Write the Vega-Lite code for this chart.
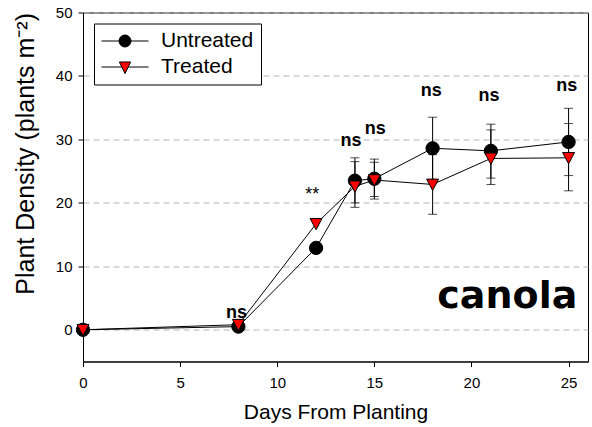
{
  "$schema": "https://vega.github.io/schema/vega-lite/v6.json",
  "width": 505,
  "height": 349,
  "autosize": "none",
  "padding": {"left": 83, "top": 12.5, "right": 4, "bottom": 65.5},
  "background": "white",
  "config": {
    "font": "Liberation Sans",
    "view": {"stroke": "black", "strokeWidth": 1},
    "axis": {
      "labelFont": "Liberation Sans",
      "titleFont": "Liberation Sans",
      "labelColor": "black",
      "titleColor": "black",
      "tickColor": "black",
      "domainColor": "black",
      "titleFontWeight": "normal",
      "labelFontSize": 15,
      "tickSize": 5,
      "labelFlush": false
    },
    "axisX": {"grid": false, "labelPadding": 9, "titleFontSize": 21, "titlePadding": 11},
    "axisY": {"grid": true, "gridDash": [6, 4], "gridColor": "#b4b4b4", "labelPadding": 6, "titleFontSize": 25, "titleAnchor": "end", "titlePadding": 17}
  },
  "datasets": {
    "series": [
      {"group": "Untreated", "day": 0, "density": 0},
      {"group": "Untreated", "day": 8, "density": 0.5},
      {"group": "Untreated", "day": 12, "density": 12.9},
      {"group": "Untreated", "day": 14, "density": 23.5, "lo": 19.3, "hi": 27.1},
      {"group": "Untreated", "day": 15, "density": 23.8, "lo": 20.6, "hi": 26.9},
      {"group": "Untreated", "day": 18, "density": 28.6, "lo": 23.7, "hi": 33.5},
      {"group": "Untreated", "day": 21, "density": 28.2, "lo": 23.9, "hi": 32.4},
      {"group": "Untreated", "day": 25, "density": 29.6, "lo": 24.3, "hi": 34.9},
      {"group": "Treated", "day": 0, "density": 0},
      {"group": "Treated", "day": 8, "density": 0.8},
      {"group": "Treated", "day": 12, "density": 16.7},
      {"group": "Treated", "day": 14, "density": 22.6, "lo": 20.0, "hi": 26.5},
      {"group": "Treated", "day": 15, "density": 23.6, "lo": 21.0, "hi": 26.4},
      {"group": "Treated", "day": 18, "density": 22.9, "lo": 18.2, "hi": 27.6},
      {"group": "Treated", "day": 21, "density": 27.0, "lo": 22.9, "hi": 31.5},
      {"group": "Treated", "day": 25, "density": 27.1, "lo": 21.9, "hi": 32.5}
    ],
    "annot": [
      {"day": 7.9, "y": 1.9, "label": "ns"},
      {"day": 11.8, "y": 20.5, "label": "**"},
      {"day": 13.8, "y": 29.0, "label": "ns"},
      {"day": 15.05, "y": 30.9, "label": "ns"},
      {"day": 17.93, "y": 36.85, "label": "ns"},
      {"day": 20.9, "y": 36.0, "label": "ns"},
      {"day": 24.9, "y": 37.7, "label": "ns"}
    ],
    "crop": [
      {"day": 25.45, "y": 3.4, "label": "canola"}
    ]
  },
  "resolve": {
    "scale": {"shape": "independent", "fill": "independent", "stroke": "independent"},
    "legend": {"shape": "independent", "fill": "independent", "stroke": "independent"}
  },
  "layer": [
    {
      "data": {"name": "series"},
      "transform": [{"filter": "isValid(datum.lo)"}],
      "mark": {"type": "errorbar", "color": "black", "ticks": {"size": 9, "color": "black", "thickness": 1}, "rule": {"color": "black", "strokeWidth": 1}},
      "encoding": {
        "x": {"field": "day", "type": "quantitative", "scale": {"domain": [0, 26], "nice": false}, "axis": {"values": [0, 5, 10, 15, 20, 25]}, "title": "Days From Planting"},
        "y": {"field": "lo", "type": "quantitative", "scale": {"domain": [-5, 50], "nice": false}, "axis": {"values": [0, 10, 20, 30, 40, 50]}, "title": "Plant Density (plants m⁻²)"},
        "y2": {"field": "hi"},
        "detail": {"field": "group"}
      }
    },
    {
      "data": {"name": "series"},
      "mark": {"type": "line", "color": "black", "strokeWidth": 1},
      "encoding": {
        "x": {"field": "day", "type": "quantitative"},
        "y": {"field": "density", "type": "quantitative"},
        "detail": {"field": "group"}
      }
    },
    {
      "data": {"name": "series"},
      "mark": {"type": "point", "filled": true, "opacity": 1, "stroke": "black", "strokeWidth": 1, "size": 177},
      "encoding": {
        "x": {"field": "day", "type": "quantitative"},
        "y": {"field": "density", "type": "quantitative"},
        "shape": {
          "field": "group", "type": "nominal",
          "scale": {"domain": ["Untreated", "Treated"], "range": ["circle", "M-0.9,-0.8H0.9L0,0.9Z"]},
          "legend": null
        },
        "fill": {
          "field": "group", "type": "nominal",
          "scale": {"domain": ["Untreated", "Treated"], "range": ["black", "#ff0000"]},
          "legend": null
        }
      }
    },
    {
      "data": {"name": "series"},
      "transform": [{"filter": "datum.day === 0"}],
      "mark": {"type": "point", "filled": true, "opacity": 0, "strokeWidth": 1},
      "encoding": {
        "x": {"field": "day", "type": "quantitative"},
        "y": {"field": "density", "type": "quantitative"},
        "shape": {
          "field": "group", "type": "nominal",
          "scale": {"domain": ["Untreated", "Treated"], "range": [
            "M-1,0H1M-0.255,0A0.255,0.255,0,1,1,0.255,0A0.255,0.255,0,1,1,-0.255,0Z",
            "M-1,0H-0.136M0.136,0H1M-0.24,-0.213H0.24L0,0.28Z"
          ]},
          "legend": {
            "title": null,
            "orient": "top-left",
            "offset": 11,
            "padding": 7,
            "rowPadding": 4,
            "strokeColor": "black",
            "fillColor": "white",
            "labelFont": "Liberation Sans",
            "labelFontSize": 21,
            "labelColor": "black",
            "labelOffset": 12,
            "symbolSize": 2209,
            "clipHeight": 21,
            "symbolOpacity": 1,
            "symbolStrokeWidth": 1
          }
        },
        "fill": {
          "field": "group", "type": "nominal",
          "scale": {"domain": ["Untreated", "Treated"], "range": ["black", "#ff0000"]},
          "legend": {"title": null}
        },
        "stroke": {
          "field": "group", "type": "nominal",
          "scale": {"domain": ["Untreated", "Treated"], "range": ["black", "black"]},
          "legend": {"title": null}
        }
      }
    },
    {
      "data": {"name": "annot"},
      "transform": [{"filter": "datum.label === 'ns'"}],
      "mark": {"type": "text", "font": "Liberation Sans", "fontSize": 18, "fontWeight": "bold", "align": "center", "baseline": "alphabetic", "color": "black"},
      "encoding": {
        "x": {"field": "day", "type": "quantitative"},
        "y": {"field": "y", "type": "quantitative"},
        "text": {"field": "label"}
      }
    },
    {
      "data": {"name": "annot"},
      "transform": [{"filter": "datum.label === '**'"}],
      "mark": {"type": "text", "font": "Liberation Sans", "fontSize": 18, "fontWeight": "normal", "align": "center", "baseline": "alphabetic", "color": "black"},
      "encoding": {
        "x": {"field": "day", "type": "quantitative"},
        "y": {"field": "y", "type": "quantitative"},
        "text": {"field": "label"}
      }
    },
    {
      "data": {"name": "crop"},
      "mark": {"type": "text", "font": "DejaVu Sans", "fontSize": 38, "fontWeight": "bold", "align": "right", "baseline": "alphabetic", "color": "black"},
      "encoding": {
        "x": {"field": "day", "type": "quantitative"},
        "y": {"field": "y", "type": "quantitative"},
        "text": {"field": "label"}
      }
    }
  ]
}
